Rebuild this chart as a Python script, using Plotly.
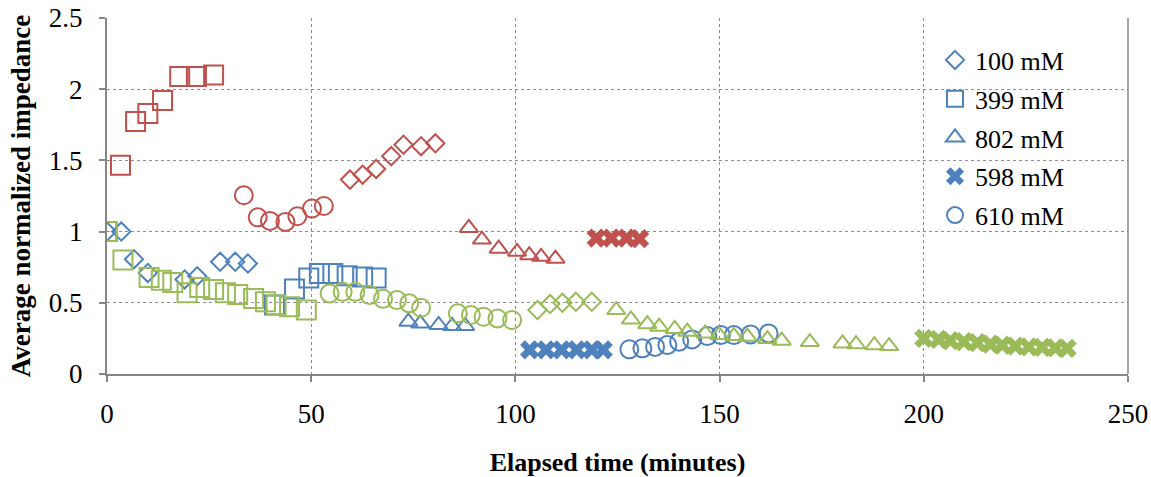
import plotly.graph_objects as go

# ---------------- data (elapsed time in minutes, normalized impedance) -------------
# Red series
red_100_t = [59.5, 62.6, 65.9, 69.6, 72.6, 76.9, 80.4]
red_100_v = [1.365, 1.40, 1.44, 1.53, 1.61, 1.60, 1.62]
red_399_t = [0.0, 3.3, 7.0, 10.0, 13.6, 17.8, 21.9, 26.1]
red_399_v = [1.0, 1.466, 1.774, 1.83, 1.92, 2.09, 2.09, 2.10]
red_802_t = [88.6, 91.8, 95.9, 100.4, 103.4, 106.3, 109.8]
red_802_v = [1.026, 0.944, 0.88, 0.858, 0.834, 0.823, 0.81]
red_598_t = [119.8, 123.5, 127.2, 130.4]
red_598_v = [0.955, 0.955, 0.955, 0.95]
red_610_t = [33.5, 36.9, 39.9, 43.7, 46.6, 50.2, 53.1]
red_610_v = [1.255, 1.10, 1.075, 1.068, 1.108, 1.162, 1.18]

# Blue series
blue_100_t = [0.0, 3.5, 6.6, 10.0, 19.0, 22.1, 27.7, 31.4, 34.5]
blue_100_v = [1.0, 1.0, 0.806, 0.71, 0.664, 0.687, 0.788, 0.788, 0.776]
blue_399_t = [41.0, 45.9, 49.4, 52.0, 55.3, 58.8, 62.6, 65.9]
blue_399_v = [0.484, 0.597, 0.675, 0.706, 0.706, 0.69, 0.682, 0.675]
blue_802_t = [73.8, 76.7, 81.2, 84.5, 87.7]
blue_802_v = [0.367, 0.355, 0.344, 0.337, 0.337]
blue_598_t = [103.5, 107.5, 111.3, 115.0, 118.7, 121.5]
blue_598_v = [0.17, 0.17, 0.17, 0.17, 0.17, 0.17]
blue_610_t = [127.9, 131.1, 134.2, 137.2, 140.1, 143.3, 147.0, 150.3, 153.5, 157.6, 162.0]
blue_610_v = [0.173, 0.18, 0.19, 0.203, 0.227, 0.243, 0.266, 0.273, 0.273, 0.278, 0.285]

# Green series
green_100_t = [105.4, 108.5, 111.5, 114.8, 118.7]
green_100_v = [0.449, 0.491, 0.50, 0.507, 0.507]
green_399_t = [0.0, 3.9, 10.3, 13.3, 16.1, 19.6, 22.7, 26.1, 29.0, 32.0, 35.9, 38.8, 41.4, 44.7, 48.8]
green_399_v = [1.0, 0.80, 0.678, 0.659, 0.643, 0.57, 0.608, 0.594, 0.57, 0.559, 0.531, 0.507, 0.484, 0.472, 0.449]
green_802_t = [124.7, 128.3, 132.3, 135.2, 139.0, 142.1, 146.5, 149.9, 153.5, 156.8, 161.7, 165.2,
               172.1, 180.1, 183.4, 187.9, 191.5]
green_802_v = [0.449, 0.383, 0.35, 0.332, 0.316, 0.297, 0.285, 0.273, 0.266, 0.262, 0.245, 0.234,
               0.224, 0.215, 0.209, 0.202, 0.196]
green_598_t = [200.0, 203.6, 206.5, 209.8, 213.1, 216.3, 219.2, 222.4, 225.7, 229.0, 232.2, 235.1]
green_598_v = [0.25, 0.243, 0.234, 0.227, 0.22, 0.21, 0.203, 0.196, 0.19, 0.187, 0.183, 0.18]
green_610_t = [54.5, 57.7, 60.8, 64.3, 67.6, 71.0, 74.0, 76.9, 85.9, 89.1, 92.2, 95.6, 99.2]
green_610_v = [0.566, 0.577, 0.577, 0.554, 0.528, 0.519, 0.496, 0.465, 0.426, 0.414, 0.402, 0.39, 0.379]

labels = ["100 mM", "399 mM", "802 mM", "598 mM", "610 mM"]
x_ticks = [0, 50, 100, 150, 200, 250]
y_ticks = [0, 0.5, 1, 1.5, 2, 2.5]

# ---------------- styling ----------------
BLUE = "#4F81BD"
RED = "#C0504D"
GREEN = "#9BBB59"
FONT = "Liberation Serif, Times New Roman, serif"

symbols = {
    "100 mM": ("diamond-open", 14),
    "399 mM": ("square-open", 19),
    "802 mM": ("triangle-up-open", 16),
    "598 mM": ("x", 17),
    "610 mM": ("circle-open", 18),
}

series = {
    RED: [(red_100_t, red_100_v), (red_399_t, red_399_v), (red_802_t, red_802_v),
          (red_598_t, red_598_v), (red_610_t, red_610_v)],
    BLUE: [(blue_100_t, blue_100_v), (blue_399_t, blue_399_v), (blue_802_t, blue_802_v),
           (blue_598_t, blue_598_v), (blue_610_t, blue_610_v)],
    GREEN: [(green_100_t, green_100_v), (green_399_t, green_399_v), (green_802_t, green_802_v),
            (green_598_t, green_598_v), (green_610_t, green_610_v)],
}

fig = go.Figure()
for color in [RED, BLUE, GREEN]:
    for lab, (tt, vv) in zip(labels, series[color]):
        sym, size = symbols[lab]
        if sym == "x":
            marker = dict(symbol=sym, size=size, color=color, line=dict(width=0))
        else:
            marker = dict(symbol=sym, size=size, color=color, line=dict(width=2, color=color))
        fig.add_trace(go.Scatter(
            x=tt, y=vv, mode="markers", name=lab, legendgroup=lab,
            showlegend=(color == BLUE), marker=marker, hoverinfo="x+y+name",
        ))

axis_common = dict(
    showline=True, linecolor="#868686", linewidth=2,
    ticks="outside", ticklen=6, tickcolor="#868686", tickwidth=1.5,
    showgrid=True, gridcolor="#8c8c8c", griddash="dot", gridwidth=1.3,
    zeroline=False, automargin=False,
    tickfont=dict(family=FONT, size=27, color="black"),
)

fig.update_layout(
    width=1151, height=477,
    margin=dict(l=107, r=23, t=18, b=103),
    paper_bgcolor="white", plot_bgcolor="white",
    font=dict(family=FONT, color="black"),
    xaxis=dict(range=[0, 250], tickvals=x_ticks, ticklabelstandoff=9,
               title=dict(text="<b>Elapsed time (minutes)</b>", font=dict(family=FONT, size=26), standoff=24),
               **axis_common),
    yaxis=dict(range=[0, 2.5], tickvals=y_ticks, ticklabelstandoff=11,
               title=dict(text="<b>Average normalized impedance</b>", font=dict(family=FONT, size=27), standoff=10),
               **axis_common),
    legend=dict(x=0.811, y=0.948, xanchor="left", yanchor="top",
                bgcolor="rgba(0,0,0,0)", font=dict(family=FONT, size=26),
                traceorder="grouped", tracegroupgap=2, itemwidth=30),
    showlegend=True,
)

# right border of plot area at x = 250
fig.add_shape(type="line", xref="x domain", yref="y domain", x0=1, x1=1, y0=0, y1=1,
              line=dict(color="#868686", width=1.5))

fig.write_html("out.html", config={"displayModeBar": False},
               post_script="document.body.style.margin='0';document.body.style.overflow='hidden';")
